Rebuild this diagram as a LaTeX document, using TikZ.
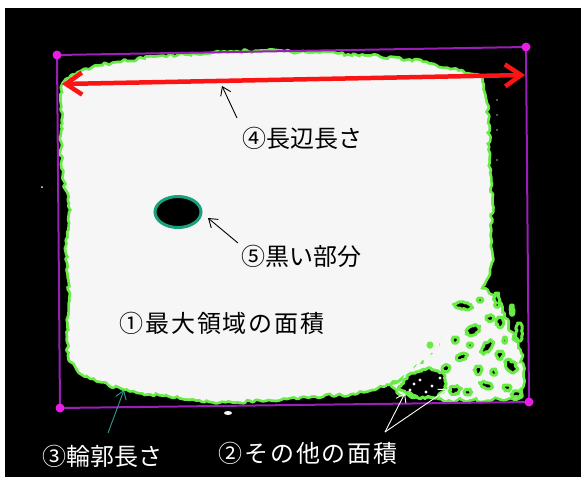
\documentclass[tikz,border=0pt]{standalone}
\usepackage{fontspec}
\newfontfamily\jp{Noto Sans CJK JP}
\usetikzlibrary{arrows.meta,decorations.pathmorphing,shapes.geometric}
\definecolor{rimgreen}{RGB}{105,235,70}
\definecolor{boxpurple}{RGB}{155,30,185}
\definecolor{dotmag}{RGB}{230,30,230}
\definecolor{holeteal}{RGB}{25,160,125}
\definecolor{arrteal}{RGB}{40,160,150}
\definecolor{arrred}{RGB}{250,20,20}
\definecolor{blobwhite}{RGB}{246,246,246}
\begin{document}
\begin{tikzpicture}[x=1pt,y=-1pt,
  lbl/.style={font=\jp\fontsize{24}{24}\selectfont, inner sep=0pt},
  lblwide/.style={font=\jp\fontsize{24}{24}\selectfont\addfontfeature{LetterSpace=8}, inner sep=0pt},
  jag/.style={decorate, decoration={random steps, segment length=3.5pt, amplitude=1.8pt}},
  jagbig/.style={decorate, decoration={random steps, segment length=4pt, amplitude=3pt}},
  jagsmall/.style={decorate, decoration={random steps, segment length=2pt, amplitude=1.2pt}},
  rimline/.style={draw=rimgreen, line width=5.5pt, line join=round},
  speck/.style={fill=black, draw=rimgreen, line width=3pt, line join=round},
  pointer/.style={line width=0.9pt, -{Straight Barb[length=8pt,width=11pt,line width=0.9pt]}},
  corner/.style={fill=dotmag}]
\useasboundingbox (0,0) rectangle (581,477);
\fill[white] (0,0) rectangle (581,477);
\fill[black] (5,8) rectangle (581,477);

\def\mainpath{(63,86) -- (72,76) -- (85,70) -- (113,64) -- (163,57) -- (213,54) -- (260,52)
  -- (320,54) -- (370,57) -- (426,63) -- (447,69) -- (481,78) -- (484,95) -- (487,120)
  -- (488,160) -- (491,200) -- (490,230) -- (492,260) -- (485,280) -- (478,295) -- (465,305)
  -- (450,330) -- (430,355) -- (400,378) -- (377,387) -- (350,393) -- (300,396) -- (263,400)
  -- (213,401) -- (180,397) -- (130,390) -- (97,380) -- (80,372) -- (70,360) -- (68,340)
  -- (71,300) -- (70,280) -- (67,240) -- (72,210) -- (65,180) -- (62,150) -- (63,120) -- cycle}
\def\noisepath{(470,284) -- (486,290) -- (496,300) -- (503,318) -- (512,335) -- (519,350) -- (522,372)
  -- (521,396) -- (500,398) -- (470,399) -- (440,398) -- (415,396) -- (398,392) -- (392,385)
  -- (410,372) -- (428,356) -- (442,338) -- (452,318) -- (460,298) -- cycle}

% green rims first, then fills (so the two regions merge)
\pgfmathsetseed{3}  \path[rimline, jag] \mainpath;
\pgfmathsetseed{11} \path[rimline, jagbig] \noisepath;
\pgfmathsetseed{3}  \path[fill=blobwhite, jag] \mainpath;
\pgfmathsetseed{11} \path[fill=blobwhite, jagbig] \noisepath;

% dark patch with white specks
\pgfmathsetseed{5}
\path[speck, jagsmall] (398,388) -- (410,374) -- (428,368) -- (444,374) -- (446,388) -- (438,397) -- (418,398) -- cycle;
\foreach \px/\py in {420/380, 432/386, 410/390, 440/378, 426/392, 414/384}
  \fill[blobwhite] (\px,\py) circle (1.6);

% holes in the noisy region
\pgfmathsetseed{21}
\foreach \cx/\cy/\rx/\ry/\ang in {463/306/10/3/-10, 473/330/8/4/30, 487/347/4/8/-40, 462/357/6/3/20,
  500/322/4/5/0, 511/366/5/7/40, 486/385/7/3/-20, 507/388/4/3/0, 455/390/6/4/10, 519/332/3/9/0,
  478/370/4/4/0, 497/300/3/7/0, 455/340/3/3/0, 516/394/5/3/0, 446/368/4/3/30, 500/355/4/4/0,
  490/318/4/3/20, 470/345/3/2/0, 430/345/2/2/0, 505/340/2/3/0, 468/392/4/3/0, 512/310/2/5/0,
  480/300/3/2/0, 494/372/3/3/0}
  \path[speck, jagsmall, rotate around={\ang:(\cx,\cy)}]
    ({\cx-\rx},\cy) -- ({\cx-0.5*\rx},{\cy-\ry}) -- ({\cx+0.5*\rx},{\cy-\ry}) -- ({\cx+\rx},\cy)
    -- ({\cx+0.5*\rx},{\cy+\ry}) -- ({\cx-0.5*\rx},{\cy+\ry}) -- cycle;

% small specks
\fill[blobwhite] (228,413) ellipse (4 and 2);
\fill[blobwhite] (42,187) circle (1);
\foreach \py in {100,115,130,160} \fill[gray!70] (497,\py) circle (0.9);

% black part
\node[ellipse, fill=black, draw=holeteal, line width=3pt, minimum width=46pt, minimum height=31pt, inner sep=0pt] (hole) at (178,212) {};

% bounding rectangle
\coordinate (c1) at (57,55);
\coordinate (c2) at (526,47);
\coordinate (c3) at (529,402);
\coordinate (c4) at (60,408);
\draw[boxpurple, line width=2pt] (c1) -- (c2) -- (c3) -- (c4) -- cycle;
\foreach \c in {c1,c2,c3,c4} \fill[corner] (\c) circle (4.5);

% long side arrow
\coordinate (ra) at (62,84);
\coordinate (rb) at (525,75);
\draw[arrred, line width=4.5pt, {Straight Barb[length=16pt,width=22pt,line width=4.5pt]}-{Straight Barb[length=16pt,width=22pt,line width=4.5pt]}] (ra) -- (rb);

% labels
\node[lbl] (l4) at (302,138) {④長辺長さ};
\node[lbl] (l5) at (301,256) {⑤黒い部分};
\node[lblwide] (l1) at (222,323) {①最大領域の面積};
\node[lbl, text=white] (l3) at (102,456) {③輪郭長さ};
\node[lblwide, text=white] (l2) at (308,453) {②その他の面積};

% pointers
\coordinate (s4) at (237,118); \coordinate (t4) at (222,86);
\draw[pointer] (s4) -- (t4);
\coordinate (s5) at (238,243); \coordinate (t5) at (208,218);
\draw[pointer] (s5) -- (t5);
\coordinate (s3) at (108,433); \coordinate (t3) at (124,390);
\draw[pointer, arrteal] (s3) -- (t3);
\coordinate (s2) at (385,432); \coordinate (t2a) at (405,393); \coordinate (t2b) at (448,389);
\draw[pointer, white] (s2) -- (t2a);
\draw[pointer, white] (s2) -- (t2b);
\end{tikzpicture}
\end{document}
